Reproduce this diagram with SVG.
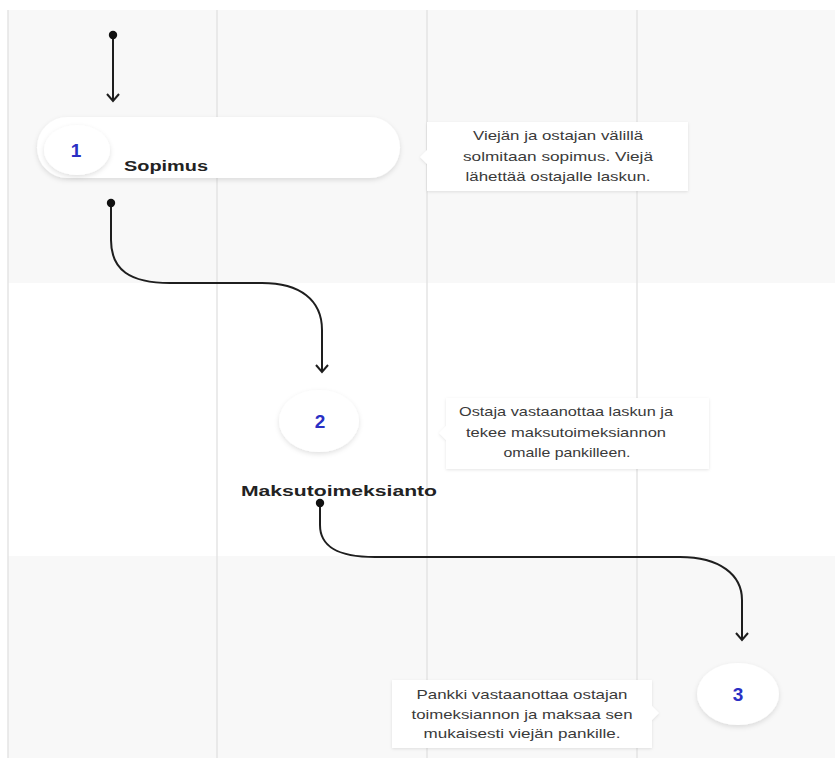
<svg xmlns="http://www.w3.org/2000/svg" width="835" height="758" viewBox="0 0 835 758">
<defs>
<style>
.lane{stroke:#e4e4e4;stroke-width:1.5;fill:none}
.band{fill:#f8f8f8}
.node{fill:#fff;filter:url(#sh)}
.num{font-family:"Liberation Sans",Arial,sans-serif;font-size:19px;font-weight:bold;fill:#2a2fc4;text-anchor:middle}
.title{font-family:"Liberation Sans",Arial,sans-serif;font-size:14px;font-weight:bold;fill:#222}
.tip{fill:#fff;filter:url(#sh2)}
.tt{font-family:"Liberation Sans",Arial,sans-serif;font-size:13px;fill:#3a3a3a;text-anchor:middle}
.conn{stroke:#1e1e1e;stroke-width:2;fill:none;marker-start:url(#dot);marker-end:url(#arr)}
</style>
<filter id="sh" x="-20%" y="-40%" width="140%" height="180%">
<feDropShadow dx="0" dy="2" stdDeviation="2.5" flood-color="#000" flood-opacity="0.12"/>
</filter>
<filter id="sh2" x="-10%" y="-20%" width="120%" height="140%">
<feDropShadow dx="0" dy="1" stdDeviation="1.5" flood-color="#000" flood-opacity="0.10"/>
</filter>
<marker id="dot" markerWidth="10" markerHeight="10" refX="5" refY="5" markerUnits="userSpaceOnUse" orient="auto">
<circle cx="5" cy="5" r="4.2" fill="#111"/>
</marker>
<marker id="arr" markerWidth="16" markerHeight="16" refX="12" refY="8" markerUnits="userSpaceOnUse" orient="auto">
<path d="M5,2 L12,8 L5,14" fill="none" stroke="#1e1e1e" stroke-width="2"/>
</marker>
</defs>
<rect width="835" height="758" fill="#fff"/>
<rect class="band" x="8" y="10" width="827" height="273"/>
<rect class="band" x="8" y="556" width="827" height="202"/>
<g id="lanes">
<line class="lane" x1="8" y1="10" x2="8" y2="758"/>
<line class="lane" x1="217" y1="10" x2="217" y2="758"/>
<line class="lane" x1="427" y1="10" x2="427" y2="758"/>
<line class="lane" x1="637" y1="10" x2="637" y2="758"/>
</g>
<g id="connectors">
<path class="conn" d="M113,35 V101"/>
<path class="conn" d="M111,203 V240 C111,270 130,283 170,283 H262 C300,283 322,300 322,330 V372"/>
<path class="conn" d="M320,503 V525 C320,545 335,557 375,557 H680 C720,557 742,575 742,600 V640"/>
</g>
<g id="node1">
<rect class="node" x="37" y="117" width="363" height="61" rx="30.5"/>
<ellipse class="node" cx="77" cy="150" rx="33" ry="25"/>
<text class="num" x="76" y="157">1</text>
<text class="title" x="124" y="171" textLength="84" lengthAdjust="spacingAndGlyphs">Sopimus</text>
</g>
<g id="note1">
<path class="tip" d="M427,122 H688 V191 H427 V164 L420,157 L427,150 Z"/>
<text class="tt" x="558" y="140" textLength="170" lengthAdjust="spacingAndGlyphs">Viejän ja ostajan välillä</text>
<text class="tt" x="558" y="161" textLength="190" lengthAdjust="spacingAndGlyphs">solmitaan sopimus. Viejä</text>
<text class="tt" x="558" y="181" textLength="185" lengthAdjust="spacingAndGlyphs">lähettää ostajalle laskun.</text>
</g>
<g id="node2">
<ellipse class="node" cx="319" cy="421" rx="40" ry="31"/>
<text class="num" x="320" y="428">2</text>
<text class="title" x="241" y="496" textLength="196" lengthAdjust="spacingAndGlyphs">Maksutoimeksianto</text>
</g>
<g id="note2">
<path class="tip" d="M446,398 H709 V469 H446 V440 L439,433 L446,426 Z"/>
<text class="tt" x="566" y="416" textLength="214" lengthAdjust="spacingAndGlyphs">Ostaja vastaanottaa laskun ja</text>
<text class="tt" x="566" y="437" textLength="200" lengthAdjust="spacingAndGlyphs">tekee maksutoimeksiannon</text>
<text class="tt" x="567" y="457" textLength="127" lengthAdjust="spacingAndGlyphs">omalle pankilleen.</text>
</g>
<g id="node3">
<ellipse class="node" cx="738" cy="694" rx="41" ry="31"/>
<text class="num" x="738" y="701">3</text>
</g>
<g id="note3">
<path class="tip" d="M392,680 H652 V706 L659,713 L652,720 V748 H392 Z"/>
<text class="tt" x="522" y="699" textLength="211" lengthAdjust="spacingAndGlyphs">Pankki vastaanottaa ostajan</text>
<text class="tt" x="522" y="719" textLength="221" lengthAdjust="spacingAndGlyphs">toimeksiannon ja maksaa sen</text>
<text class="tt" x="522" y="738" textLength="197" lengthAdjust="spacingAndGlyphs">mukaisesti viejän pankille.</text>
</g>
</svg>
